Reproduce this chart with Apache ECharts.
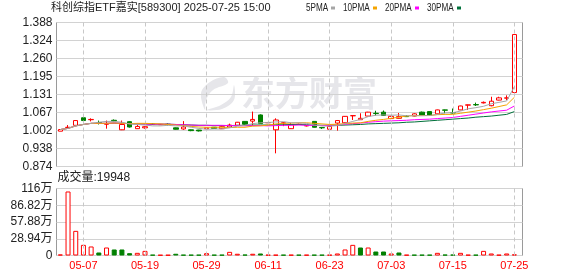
<!DOCTYPE html>
<html><head><meta charset="utf-8">
<script src="https://cdn.jsdelivr.net/npm/echarts@6/dist/echarts.min.js"></script>
<style>html,body{margin:0;padding:0;background:#fff}#c{width:578px;height:276px}</style>
</head><body><div id="c"></div>
<script>
const titleText = '科创综指ETF嘉实[589300] 2025-07-25 15:00';
const volLabel = '成交量';
const watermarkText = '东方财富';

const dates = ['04-29','04-30','05-06','05-07','05-08','05-09','05-12','05-13','05-14','05-15','05-16','05-19','05-20','05-21','05-22','05-23','05-26','05-27','05-28','05-29','05-30','06-03','06-04','06-05','06-06','06-09','06-10','06-11','06-12','06-13','06-16','06-17','06-18','06-19','06-20','06-23','06-24','06-25','06-26','06-27','06-30','07-01','07-02','07-03','07-04','07-07','07-08','07-09','07-10','07-11','07-14','07-15','07-16','07-17','07-18','07-21','07-22','07-23','07-24','07-25'];

const opens  = [1.000,1.013,1.021,1.048,1.041,1.031,1.025,1.039,1.005,1.034,1.009,1.012,1.026,1.023,1.025,1.012,1.008,1.005,1.004,1.009,1.014,1.009,1.015,1.021,1.035,1.036,1.058,1.030,1.005,1.029,1.009,1.024,1.019,1.035,1.013,1.007,1.029,1.030,1.055,1.041,1.054,1.064,1.068,1.045,1.046,1.053,1.054,1.068,1.070,1.062,1.076,1.066,1.076,1.093,1.095,1.101,1.091,1.111,1.118,1.138];
const closes = [1.006,1.014,1.038,1.038,1.042,1.030,1.026,1.037,1.024,1.015,1.017,1.016,1.025,1.024,1.024,1.007,1.015,1.002,1.001,1.012,1.010,1.016,1.022,1.032,1.025,1.042,1.027,1.031,1.040,1.030,1.023,1.025,1.020,1.014,1.012,1.017,1.038,1.053,1.0555,1.046,1.068,1.063,1.056,1.053,1.052,1.052,1.062,1.056,1.056,1.076,1.075,1.065,1.090,1.094,1.094,1.103,1.107,1.119,1.119,1.345];
const lows   = [1.000,1.012,1.020,1.030,1.035,1.024,1.009,1.034,1.004,1.013,1.008,1.009,1.024,1.022,1.020,1.006,1.005,1.000,0.999,1.007,1.009,1.008,1.013,1.020,1.023,1.020,1.026,1.029,0.921,1.018,1.008,1.022,1.017,1.013,1.008,1.005,1.002,1.029,1.040,1.040,1.053,1.056,1.055,1.043,1.045,1.051,1.053,1.055,1.055,1.061,1.064,1.063,1.075,1.076,1.090,1.099,1.089,1.110,1.111,1.127];
const highs  = [1.007,1.022,1.039,1.056,1.046,1.038,1.038,1.042,1.038,1.036,1.023,1.018,1.028,1.026,1.028,1.013,1.036,1.006,1.005,1.014,1.015,1.018,1.027,1.033,1.036,1.070,1.060,1.033,1.046,1.033,1.030,1.027,1.022,1.035,1.014,1.018,1.040,1.054,1.056,1.064,1.069,1.073,1.074,1.055,1.065,1.057,1.064,1.070,1.070,1.077,1.077,1.081,1.091,1.095,1.102,1.106,1.123,1.123,1.128,1.345];

const ma5  = [1.006,1.010,1.019,1.024,1.028,1.032,1.035,1.035,1.032,1.026,1.024,1.022,1.019,1.019,1.021,1.019,1.019,1.014,1.010,1.007,1.008,1.008,1.012,1.018,1.021,1.027,1.030,1.031,1.033,1.034,1.030,1.030,1.028,1.022,1.019,1.018,1.020,1.027,1.035,1.042,1.052,1.057,1.058,1.057,1.058,1.055,1.055,1.055,1.056,1.060,1.065,1.066,1.072,1.080,1.084,1.089,1.098,1.103,1.108,1.159];
const ma10 = [1.006,1.010,1.019,1.024,1.028,1.028,1.028,1.029,1.028,1.027,1.028,1.028,1.027,1.026,1.024,1.022,1.020,1.017,1.015,1.014,1.014,1.014,1.013,1.014,1.014,1.018,1.019,1.022,1.026,1.028,1.029,1.030,1.030,1.028,1.026,1.024,1.025,1.027,1.029,1.030,1.035,1.039,1.042,1.046,1.050,1.054,1.056,1.056,1.056,1.059,1.060,1.060,1.064,1.068,1.072,1.077,1.082,1.088,1.094,1.121];
const ma20 = [1.006,1.010,1.019,1.024,1.028,1.028,1.028,1.029,1.028,1.027,1.026,1.025,1.025,1.025,1.025,1.024,1.023,1.022,1.021,1.021,1.021,1.021,1.020,1.020,1.019,1.020,1.020,1.019,1.020,1.021,1.021,1.022,1.021,1.021,1.020,1.021,1.022,1.025,1.027,1.029,1.032,1.034,1.036,1.037,1.038,1.039,1.041,1.042,1.043,1.045,1.047,1.049,1.053,1.057,1.061,1.065,1.069,1.072,1.075,1.090];
const ma30 = [1.006,1.010,1.019,1.024,1.028,1.028,1.028,1.029,1.028,1.027,1.026,1.025,1.025,1.025,1.025,1.024,1.023,1.022,1.021,1.021,1.020,1.020,1.020,1.021,1.021,1.022,1.022,1.022,1.023,1.023,1.024,1.024,1.023,1.022,1.021,1.021,1.021,1.022,1.023,1.024,1.026,1.027,1.028,1.029,1.030,1.032,1.033,1.035,1.037,1.039,1.041,1.043,1.045,1.047,1.050,1.052,1.054,1.057,1.060,1.070];

const volumes = [17000,1106000,426000,184000,156000,52000,138000,104000,104000,40000,46000,80000,12000,10000,10000,30000,12000,12000,12000,40000,12000,12000,63000,30000,15000,30000,35000,12000,12000,12000,12000,12000,12000,12000,12000,12000,35000,104000,184000,138000,138000,69000,69000,35000,52000,12000,12000,12000,12000,46000,15000,15000,46000,12000,12000,80000,35000,12000,35000,19948];
const volUp = [1,1,1,1,1,0,1,0,0,0,1,1,0,1,1,0,0,0,0,1,0,0,1,1,0,1,0,1,1,0,1,0,1,0,0,1,1,1,1,0,1,0,0,1,0,1,0,0,0,1,0,0,1,1,0,1,1,1,1,1];

const priceTickLabels = ['0.874','0.938','1.002','1.067','1.131','1.195','1.260','1.324','1.388'];
const volTickLabels = ['0','28.94万','57.88万','86.82万','116万'];
const priceMin = 0.874, priceMax = 1.388;
const volMax = 1157600;
const labelDates = ['05-07','05-19','05-29','06-11','06-23','07-03','07-15','07-25'];
const maNames = ['5PMA','10PMA','20PMA','30PMA'];

const RED = '#ff0000', GREEN = '#008000';
const maColors = ['#a6a6a6','#f5a400','#ff00ff','#00703a'];
const FONT = '"Liberation Sans", Arial, "Noto Sans CJK SC", sans-serif';

const chart = echarts.init(document.getElementById('c'), null, {renderer: 'canvas'});

const candleData = dates.map((d, i) => [opens[i], closes[i], lows[i], highs[i]]);
const volData = volumes.map((v, i) => ({
  value: v,
  itemStyle: volUp[i] ? {color: '#ffffff', borderColor: RED, borderWidth: 1} : {color: GREEN, borderColor: GREEN, borderWidth: 1}
}));
const maArrays = [ma5, ma10, ma20, ma30];

const vLines = {
  silent: true, symbol: ['none', 'none'], label: {show: false},
  lineStyle: {type: [4, 3], color: '#c8c8c8', width: 1},
  emphasis: {disabled: true},
  animation: false,
  data: labelDates.map(d => ({xAxis: d}))
};

const legendX = [306, 343, 385, 427];
const legendSqX = [331, 373, 415, 457];
const graphics = [
  {type: 'text', x: 51, y: 8, z: 10, style: {text: titleText, font: '11px ' + FONT, fill: '#222', verticalAlign: 'middle'}},
  {type: 'text', x: 57.5, y: 177.5, z: 10, style: {text: volLabel + ':' + volumes[volumes.length - 1], font: '12px ' + FONT, fill: '#222', verticalAlign: 'middle'}},
  {type: 'text', x: 241, y: 93, z: -5, style: {text: watermarkText, font: 'bold 34px "Noto Sans CJK SC", sans-serif', fill: '#e6e6ea', verticalAlign: 'middle'}},
  {type: 'polygon', z: -5, shape: {points: [[224,77],[210,82],[201,93],[205,110],[206,100],[213,90],[228,83]], smooth: 0.35}, style: {fill: '#e6e6ea'}},
  {type: 'polygon', z: -5, shape: {points: [[234,85],[231,97],[221,105],[207,110],[222,109],[234,100]], smooth: 0.35}, style: {fill: '#e6e6ea'}}
];
maNames.forEach((n, i) => {
  graphics.push({type: 'text', x: legendX[i], y: 8, scaleX: 0.74, z: 10, style: {text: n, font: '11px ' + FONT, fill: '#222', verticalAlign: 'middle'}});
  graphics.push({type: 'rect', z: 10, shape: {x: legendSqX[i], y: 6.5, width: 4, height: 3}, style: {fill: maColors[i]}});
});

const option = {
  animation: false,
  backgroundColor: '#ffffff',
  textStyle: {fontFamily: FONT},
  graphic: graphics,
  grid: [
    {left: 56.5, top: 22.5, width: 461.7, height: 144},
    {left: 56.5, top: 188.5, width: 461.7, height: 67},
    {left: 56.5, top: 22.5, width: 466, height: 144, show: true, borderColor: '#9a9a9a', borderWidth: 1, backgroundColor: 'transparent'},
    {left: 56.5, top: 188.5, width: 466, height: 67, show: true, borderColor: '#9a9a9a', borderWidth: 1, backgroundColor: 'transparent'}
  ],
  xAxis: [
    {type: 'category', gridIndex: 0, data: dates, boundaryGap: true, axisLine: {show: false}, axisTick: {show: false}, axisLabel: {show: false}, splitLine: {show: false}},
    {type: 'category', gridIndex: 1, data: dates, boundaryGap: true, axisLine: {show: false}, axisTick: {show: false}, splitLine: {show: false},
      axisLabel: {show: true, interval: (i, v) => labelDates.includes(v), color: RED, fontSize: 11, margin: 5, fontFamily: FONT}},
    {type: 'value', gridIndex: 2, min: 0, max: 1, show: false},
    {type: 'value', gridIndex: 3, min: 0, max: 1, show: false}
  ],
  yAxis: [
    {type: 'value', gridIndex: 0, min: priceMin, max: priceMax, show: false, splitLine: {show: false}},
    {type: 'value', gridIndex: 1, min: 0, max: volMax, show: false, splitLine: {show: false}},
    {type: 'value', gridIndex: 2, min: 0, max: 8, interval: 1, axisLine: {show: false}, axisTick: {show: false},
      axisLabel: {formatter: v => priceTickLabels[v], fontSize: 12, color: '#222', margin: 4, fontFamily: FONT},
      splitLine: {show: true, lineStyle: {color: '#d2d2d2', width: 1}}},
    {type: 'value', gridIndex: 3, min: 0, max: 4, interval: 1, axisLine: {show: false}, axisTick: {show: false},
      axisLabel: {formatter: v => volTickLabels[v], fontSize: 12, color: '#222', margin: 4, fontFamily: FONT},
      splitLine: {show: true, lineStyle: {color: '#d2d2d2', width: 1}}}
  ],
  series: [
    {type: 'line', name: 'grid-v-price', xAxisIndex: 0, yAxisIndex: 0, data: [], z: 1, silent: true, markLine: vLines},
    {type: 'line', name: 'grid-v-vol', xAxisIndex: 1, yAxisIndex: 1, data: [], z: 1, silent: true, markLine: vLines},
    {type: 'candlestick', name: 'K', xAxisIndex: 0, yAxisIndex: 0, data: candleData, barWidth: 5, z: 2,
      itemStyle: {color: '#ffffff', color0: GREEN, borderColor: RED, borderColor0: GREEN, borderWidth: 1}},
    ...[3, 2, 1, 0].map((k, j) => ({
      type: 'line', name: maNames[k], xAxisIndex: 0, yAxisIndex: 0, data: maArrays[k], z: 3 + j,
      symbol: 'none', showSymbol: false, smooth: false, silent: true,
      lineStyle: {color: maColors[k], width: 1}
    })),
    {type: 'bar', name: volLabel, xAxisIndex: 1, yAxisIndex: 1, data: volData, barWidth: 5, z: 2, silent: true}
  ]
};
chart.setOption(option);
</script>
</body></html>
